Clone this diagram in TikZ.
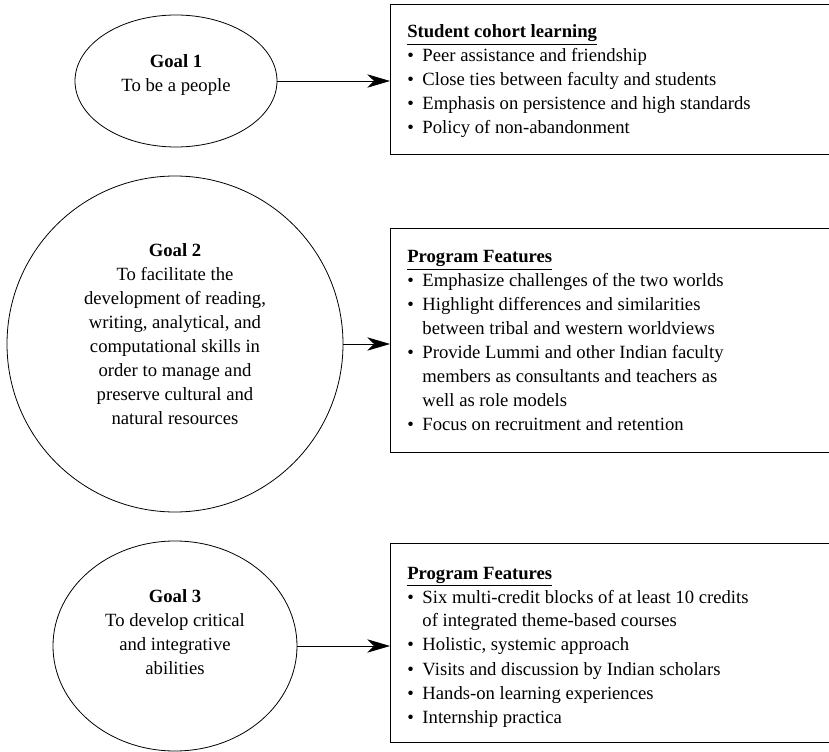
\documentclass[tikz,border=0pt]{standalone}
\usepackage{fontspec}
\setmainfont{Liberation Serif}
\usetikzlibrary{arrows.meta,shapes.geometric}

\begin{document}
\begin{tikzpicture}[x=0.75pt,y=0.75pt,yscale=-1,xscale=1,
  goal/.style={draw, ellipse, line width=0.6pt, inner sep=0pt},
  featbox/.style={draw, rectangle, line width=0.9pt, inner sep=0pt, anchor=north west, minimum width=345pt},
  goaltext/.style={align=center, inner sep=0pt, font=\fontsize{14}{18}\selectfont},
  feattext/.style={anchor=base west, inner sep=0pt, font=\fontsize{14}{18}\selectfont},
  link/.style={line width=0.6pt, -{Stealth[length=17pt,width=10pt,inset=5pt]}}]
\useasboundingbox (0,0) rectangle (829,752);
\clip (0,0) rectangle (829,752);

%Shape: Ellipse [goal 1]
\node [goal, minimum width=151.5pt, minimum height=99pt] (goal1) at (176,81) {};
%Shape: Circle [goal 2]
\node [goal, minimum width=252pt, minimum height=252pt] (goal2) at (175,344) {};
%Shape: Ellipse [goal 3]
\node [goal, minimum width=183pt, minimum height=157.5pt] (goal3) at (175,646) {};

%Shape: Rectangle
\node [featbox, minimum height=112.5pt] (box1) at (390,4) {};
%Shape: Rectangle
\node [featbox, minimum height=168pt] (box2) at (390,228) {};
%Shape: Rectangle
\node [featbox, minimum height=149.25pt] (box3) at (390,543) {};

%Straight Lines
\draw [link] (goal1.east) -- (goal1.east -| box1.west);
\draw [link] (goal2.east) -- (goal2.east -| box2.west);
\draw [link] (goal3.east) -- (goal3.east -| box3.west);

% Text Node
\node [goaltext] (goal1txt) at ([yshift=-4.5]goal1.center) {\textbf{Goal 1}\\To be a people};
% Text Node
\node [goaltext] (goal2txt) at ([yshift=-7.3]goal2.center) {\textbf{Goal 2}\\To facilitate the\\development of reading,\\writing, analytical, and\\computational skills in\\order to manage and\\preserve cultural and\\natural resources};
% Text Node
\node [goaltext] (goal3txt) at ([yshift=-10.3]goal3.center) {\textbf{Goal 3}\\To develop critical\\and integrative\\abilities};

% Text Node
\node [feattext] (list1) at ([shift={(17,34)}]box1.north west) {\begin{tabular}[t]{@{}l@{\hspace{6.5pt}}l@{}}
\multicolumn{2}{@{}l@{}}{\underline{\textbf{Student cohort learning}}}\\
\textbullet & Peer assistance and friendship\\
\textbullet & Close ties between faculty and students\\
\textbullet & Emphasis on persistence and high standards\\
\textbullet & Policy of non-abandonment
\end{tabular}};
% Text Node
\node [feattext] (list2) at ([shift={(17,35)}]box2.north west) {\begin{tabular}[t]{@{}l@{\hspace{6.5pt}}l@{}}
\multicolumn{2}{@{}l@{}}{\underline{\textbf{Program Features}}}\\
\textbullet & Emphasize challenges of the two worlds\\
\textbullet & Highlight differences and similarities\\
 & between tribal and western worldviews\\
\textbullet & Provide Lummi and other Indian faculty\\
 & members as consultants and teachers as\\
 & well as role models\\
\textbullet & Focus on recruitment and retention
\end{tabular}};
% Text Node
\node [feattext] (list3) at ([shift={(17,36)}]box3.north west) {\begin{tabular}[t]{@{}l@{\hspace{6.5pt}}l@{}}
\multicolumn{2}{@{}l@{}}{\underline{\textbf{Program Features}}}\\
\textbullet & Six multi-credit blocks of at least 10 credits\\
 & of integrated theme-based courses\\
\textbullet & Holistic, systemic approach\\
\textbullet & Visits and discussion by Indian scholars\\
\textbullet & Hands-on learning experiences\\
\textbullet & Internship practica
\end{tabular}};

\end{tikzpicture}
\end{document}
